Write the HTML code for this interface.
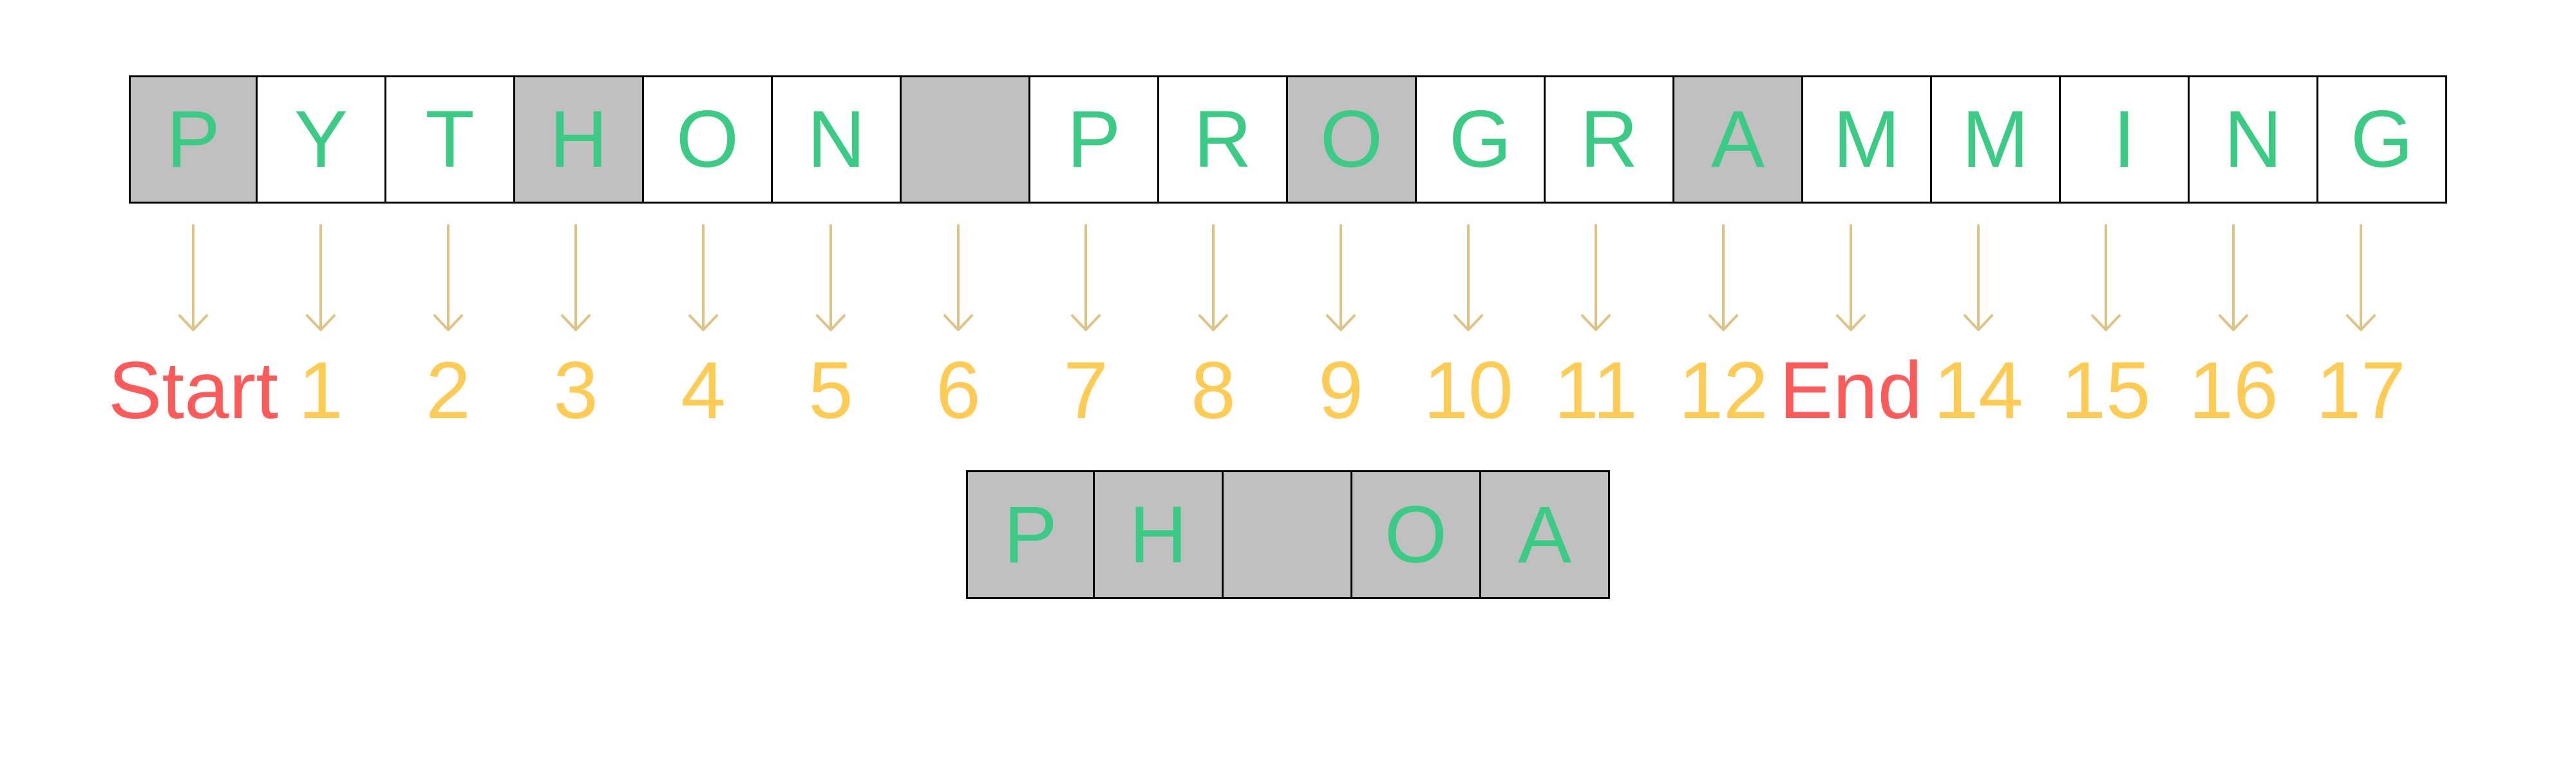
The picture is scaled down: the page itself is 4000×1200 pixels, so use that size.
<!DOCTYPE html>
<html><head><meta charset="utf-8"><style>
html,body{margin:0;padding:0;background:#fff;}
body{width:4000px;height:1200px;position:relative;overflow:hidden;font-family:"Liberation Sans",sans-serif;}
.c{position:absolute;box-sizing:border-box;border:3px solid #000;color:#3ccb84;font-size:125px;display:flex;align-items:center;justify-content:center;line-height:1;}
.g{background:#c0c0c0;}
.l{position:absolute;font-size:125px;line-height:1;transform:translateX(-50%);white-space:nowrap;top:544px;}
</style></head><body>
<div id="top"></div>
<svg style="position:absolute;left:0;top:0" width="4000" height="1200">
<g stroke="#dfc386" stroke-width="4" fill="none" stroke-linecap="round" stroke-linejoin="round" id="ar"></g>
</svg>
<script>
var s="PYTHON PROGRAMMING",gray=[0,3,6,9,12],h="";
for(var i=0;i<18;i++){h+='<div class="c'+(gray.indexOf(i)>=0?' g':'')+'" style="left:'+(200+200*i-(i?3:0))+'px;top:117px;width:'+(i?203:200)+'px;height:199px">'+(s[i]==' '?'':s[i])+'</div>';}
var b="PH OA";
for(var j=0;j<5;j++){h+='<div class="c g" style="left:'+(1500+200*j-(j?3:0))+'px;top:730px;width:'+(j?203:200)+'px;height:200px">'+(b[j]==' '?'':b[j])+'</div>';}
var a="";
for(var k=0;k<18;k++){var x=300+198*k;a+='<line x1="'+x+'" y1="350" x2="'+x+'" y2="512"/><polyline points="'+(x-21)+',490 '+x+',512 '+(x+21)+',490"/>';
var t=k==0?'Start':(k==13?'End':String(k));var col=(k==0||k==13)?'#fd5a5a':'#fecb55';
h+='<div class="l" style="left:'+x+'px;color:'+col+'">'+t+'</div>';}
document.getElementById('top').innerHTML=h;
document.getElementById('ar').innerHTML=a;
</script>
</body></html>
